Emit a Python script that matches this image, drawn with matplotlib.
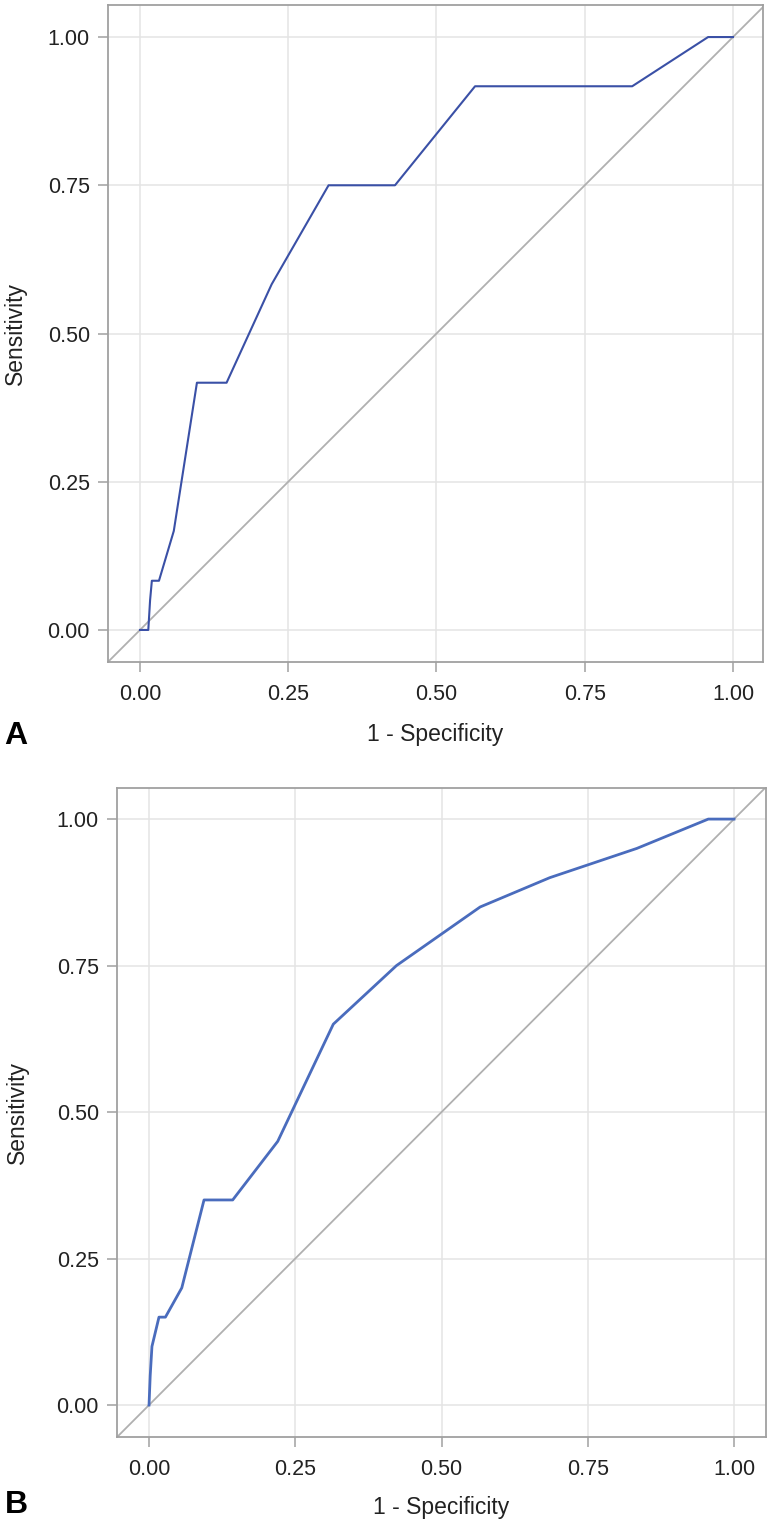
import matplotlib.pyplot as plt

plt.rcParams['font.family'] = ['Liberation Sans', 'DejaVu Sans']

# ROC curve A: 1 - specificity vs sensitivity
fpr_a = [0.0, 0.014, 0.017, 0.02, 0.032, 0.057, 0.096, 0.146, 0.222, 0.318, 0.43, 0.565, 0.83, 0.958, 1.0]
tpr_a = [0.0, 0.0, 0.05, 0.083, 0.083, 0.167, 0.417, 0.417, 0.583, 0.75, 0.75, 0.917, 0.917, 1.0, 1.0]

# ROC curve B
fpr_b = [0.0, 0.002, 0.005, 0.017, 0.028, 0.056, 0.094, 0.143, 0.22, 0.315, 0.423, 0.566, 0.685, 0.834, 0.956, 1.0]
tpr_b = [0.0, 0.05, 0.10, 0.15, 0.15, 0.20, 0.35, 0.35, 0.45, 0.65, 0.75, 0.85, 0.90, 0.95, 1.0, 1.0]

ticks = [0.0, 0.25, 0.50, 0.75, 1.0]
tick_labels = ['0.00', '0.25', '0.50', '0.75', '1.00']

fig = plt.figure(figsize=(7.74, 15.26), dpi=100)
ax_a = fig.add_axes([0.1395, 0.5662, 0.8463, 0.4305])
ax_b = fig.add_axes([0.1512, 0.0583, 0.8385, 0.4253])


def style_axis(ax, xlim, ylim, xpad, ypad):
    ax.set_xlim(*xlim)
    ax.set_ylim(*ylim)
    ax.set_xticks(ticks)
    ax.set_yticks(ticks)
    ax.set_xticklabels(tick_labels)
    ax.set_yticklabels(tick_labels)
    ax.grid(True, color='#e4e4e4', linewidth=1.1)
    ax.set_axisbelow(True)
    for s in ax.spines.values():
        s.set_color('#a0a0a0')
        s.set_linewidth(1.3)
    ax.tick_params(length=7, width=1.1, color='#a0a0a0', labelsize=15.5,
                   labelcolor='#222222')
    ax.tick_params(axis='x', pad=9)
    ax.tick_params(axis='y', pad=6)
    ax.set_xlabel('1 - Specificity', fontsize=16.5, color='#222222', labelpad=xpad)
    ax.set_ylabel('Sensitivity', fontsize=16.5, color='#222222', labelpad=ypad)
    # chance diagonal
    ax.plot([-0.06, 1.06], [-0.06, 1.06], color='#b0b0b0', linewidth=1.3, zorder=2)


style_axis(ax_a, (-0.054, 1.0506), (-0.054, 1.054), 13, 15)
ax_a.plot(fpr_a, tpr_a, color='#3a50a6', linewidth=1.5, zorder=3)

style_axis(ax_b, (-0.0547, 1.0547), (-0.0546, 1.053), 11, 20)
ax_b.plot(fpr_b, tpr_b, color='#4a6cbd', linewidth=2.0, zorder=3)

fig.text(0.006, 0.518, 'A', fontsize=23, fontweight='bold', va='center', ha='left')
fig.text(0.006, 0.014, 'B', fontsize=23, fontweight='bold', va='center', ha='left')

fig.savefig('out.png', dpi=100)
